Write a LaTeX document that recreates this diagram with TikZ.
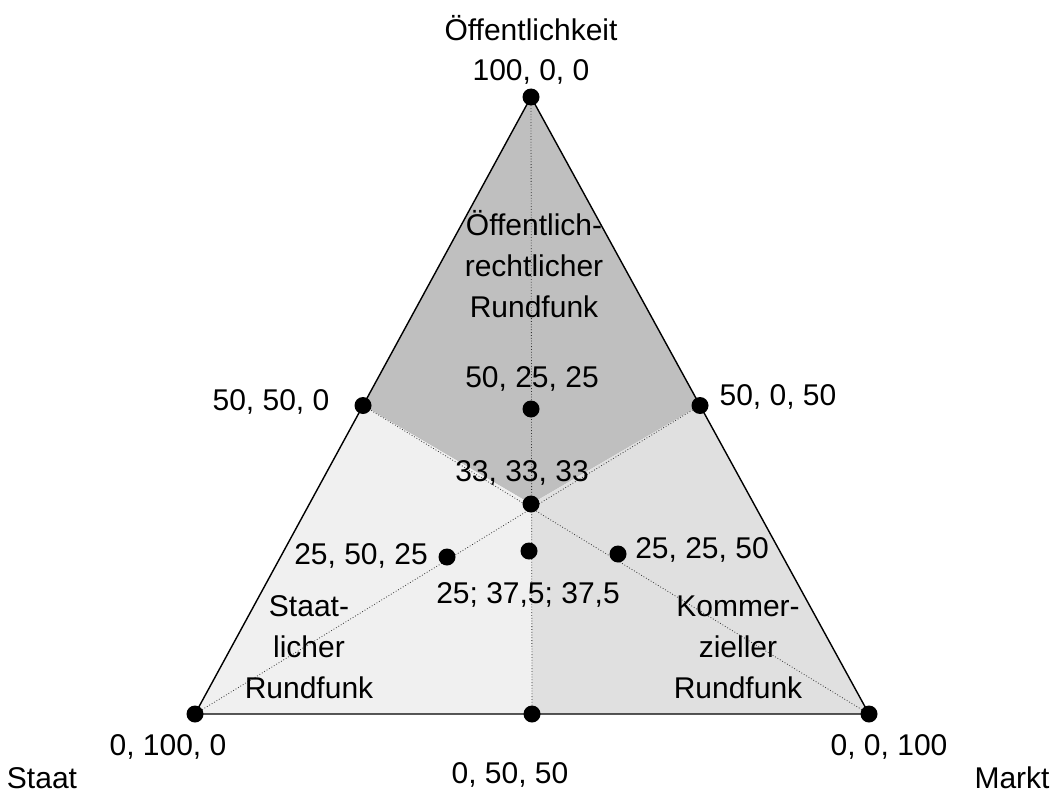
\documentclass[tikz,border=0pt]{standalone}
\usepackage{fontspec}
\setmainfont{Liberation Sans}
\usetikzlibrary{calc}
\begin{document}
\begin{tikzpicture}
    [
      x=1pt, y=-1pt,
      every node/.style={black, font=\fontsize{30}{41}\selectfont},
      edge/.style={draw=black, line width=1.4pt},
      axis/.style={draw=black!80, line width=0.8pt, dotted},
      dot/.style={circle, fill=black, inner sep=0pt, minimum size=17pt},
      label/.style={align=center},
      oeff/.style={fill=black!25},
      staat/.style={fill=black!6},
      markt/.style={fill=black!12},
    ]

    \useasboundingbox (0,0) rectangle (1054,797);

    % corner points and midpoints
    \coordinate (top) at (531,97);
    \coordinate (bl) at (195,714);
    \coordinate (br) at (869,714);
    \coordinate (ml) at ($(top)!0.5!(bl)$);
    \coordinate (mr) at ($(top)!0.5!(br)$);
    \coordinate (mb) at ($(bl)!0.5!(br)$);
    \coordinate (mid) at (531,504);

    % areas
    \fill [oeff] (top) -- (ml) -- (mid) -- (mr) -- cycle;
    \fill [staat] (bl) -- (mb) -- (mid) -- (ml) -- cycle;
    \fill [markt] (br) -- (mr) -- (mid) -- (mb) -- cycle;

    \draw [axis] (top) -- (mb);
    \draw [axis] (bl) -- (mr);
    \draw [axis] (br) -- (ml);

    \draw [edge] (top) -- (bl) -- (br) -- cycle;

    % points
    \node [dot] (p100) at (top) {};
    \node [dot] (p010) at (bl) {};
    \node [dot] (p001) at (br) {};
    \node [dot] (p550) at (ml) {};
    \node [dot] (p505) at (mr) {};
    \node [dot] (p055) at (mb) {};
    \node [dot] (p333) at (mid) {};
    \node [dot] (p522) at (531,409) {};
    \node [dot] (p252) at (447,557) {};
    \node [dot] (p225) at (618,554) {};
    \node [dot] (p233) at (529,551) {};

    % labels
    \node (oeffentlichkeit) at (531,28) {Öffentlichkeit};
    \node (staat) at (42,778) {Staat};
    \node (markt) at (1012,778) {Markt};

    \node at (531,72) {100, 0, 0};
    \node at (271,402) {50, 50, 0};
    \node at (778,397) {50, 0, 50};
    \node at (532,379) {50, 25, 25};
    \node at (522,473) {33, 33, 33};
    \node at (361,556) {25, 50, 25};
    \node at (702,550) {25, 25, 50};
    \node at (528,595) {25; 37,5; 37,5};
    \node at (168,747) {0, 100, 0};
    \node at (510,775) {0, 50, 50};
    \node at (889,747) {0, 0, 100};

    \node [label] (oerundfunk) at (534,264) {Öffentlich-\\rechtlicher\\Rundfunk};
    \node [label] (strundfunk) at (309,647) {Staat-\\licher\\Rundfunk};
    \node [label] (krundfunk) at (738,647) {Kommer-\\zieller\\Rundfunk};
  \end{tikzpicture}
\end{document}
